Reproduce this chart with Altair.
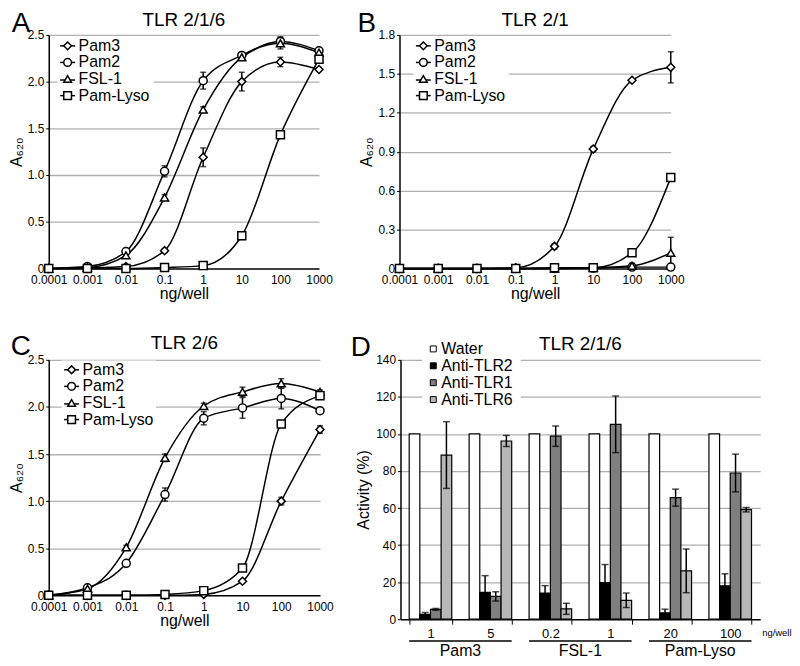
import altair as alt
import pandas as pd

FONT = "Liberation Sans"

# ---------------- shared categories ----------------
doses = [0.0001, 0.001, 0.01, 0.1, 1, 10, 100, 1000]
series = ["Pam3", "Pam2", "FSL-1", "Pam-Lyso"]
marker_shapes = ["diamond", "circle", "triangle-up", "square"]

# ---------------- Panel A: TLR 2/1/6 ----------------
a_pam3 = [0.0, 0.005, 0.02, 0.19, 1.19, 2.00, 2.21, 2.13]
a_pam2 = [0.0, 0.02, 0.18, 1.04, 2.01, 2.28, 2.43, 2.33]
a_fsl1 = [0.0, 0.01, 0.14, 0.76, 1.70, 2.26, 2.41, 2.31]
a_lyso = [0.0, 0.0, 0.0, 0.01, 0.03, 0.35, 1.43, 2.24]
a_pam3_err = [0, 0, 0, 0.02, 0.10, 0.10, 0.05, 0.02]
a_pam2_err = [0, 0, 0, 0.06, 0.09, 0.03, 0.05, 0.02]
a_fsl1_err = [0, 0, 0, 0.03, 0.03, 0.03, 0.06, 0.02]
a_lyso_err = [0, 0, 0, 0, 0.01, 0.04, 0.03, 0.03]
a_ticks = [0, 0.5, 1.0, 1.5, 2.0, 2.5]

# ---------------- Panel B: TLR 2/1 ----------------
b_pam3 = [0.0, 0.0, 0.0, 0.005, 0.17, 0.92, 1.45, 1.55]
b_pam2 = [0.0, 0.0, 0.0, 0.0, 0.0, 0.003, 0.01, 0.01]
b_fsl1 = [0.0, 0.0, 0.0, 0.0, 0.0, 0.005, 0.02, 0.12]
b_lyso = [0.0, 0.0, 0.0, 0.0, 0.005, 0.005, 0.12, 0.70]
b_pam3_err = [0, 0, 0, 0, 0.02, 0.02, 0.01, 0.12]
b_pam2_err = [0, 0, 0, 0, 0, 0, 0, 0]
b_fsl1_err = [0, 0, 0, 0, 0, 0, 0.02, 0.12]
b_lyso_err = [0, 0, 0, 0, 0, 0, 0.01, 0.01]
b_ticks = [0, 0.3, 0.6, 0.9, 1.2, 1.5, 1.8]

# ---------------- Panel C: TLR 2/6 ----------------
c_pam3 = [0.0, 0.0, 0.0, 0.0, 0.01, 0.15, 1.00, 1.76]
c_pam2 = [0.0, 0.08, 0.34, 1.07, 1.88, 1.99, 2.09, 1.96]
c_fsl1 = [0.0, 0.07, 0.51, 1.46, 2.01, 2.16, 2.25, 2.16]
c_lyso = [0.0, 0.0, 0.0, 0.01, 0.05, 0.29, 1.82, 2.12]
c_pam3_err = [0, 0, 0, 0, 0, 0.01, 0.04, 0.04]
c_pam2_err = [0, 0, 0.02, 0.07, 0.07, 0.11, 0.11, 0.03]
c_fsl1_err = [0, 0, 0.02, 0.04, 0.03, 0.05, 0.05, 0.02]
c_lyso_err = [0, 0, 0, 0, 0, 0.02, 0.02, 0.02]
c_ticks = [0, 0.5, 1.0, 1.5, 2.0, 2.5]

# ---------------- Panel D: TLR 2/1/6 antibodies ----------------
treatments = ["Water", "Anti-TLR2", "Anti-TLR1", "Anti-TLR6"]
treat_colors = ["#ffffff", "#000000", "#7f7f7f", "#b7b7b7"]
groups = ["Pam3|1", "Pam3|5", "FSL-1|0.2", "FSL-1|1", "Pam-Lyso|20", "Pam-Lyso|100"]
pairs = ["Pam3", "FSL-1", "Pam-Lyso"]
pair_first = ["Pam3|1", "FSL-1|0.2", "Pam-Lyso|20"]
pair_second = ["Pam3|5", "FSL-1|1", "Pam-Lyso|100"]
d_water = [100, 100, 100, 100, 100, 100]
d_tlr2 = [2.6, 14.5, 14.1, 19.8, 3.4, 18.0]
d_tlr1 = [5.3, 12.3, 98.8, 105.2, 65.6, 78.9]
d_tlr6 = [88.6, 96.2, 5.6, 10.2, 26.1, 59.1]
d_water_err = [0, 0, 0, 0, 0, 0]
d_tlr2_err = [1.0, 9.0, 4.0, 9.7, 2.0, 6.5]
d_tlr1_err = [0.5, 2.5, 5.5, 15.3, 4.6, 10.2]
d_tlr6_err = [18.0, 3.0, 3.0, 3.9, 11.8, 1.2]
d_ticks = [0, 20, 40, 60, 80, 100, 120, 140]

GRID = "#b0b0b0"
grid_color = {"condition": {"test": "datum.value === 0", "value": "transparent"}, "value": GRID}
PAD_IN = 0.29


def make_df(vals, errs):
    rows = []
    for s, v, e in zip(series, vals, errs):
        for d, y, er in zip(doses, v, e):
            rows.append({"dose": d, "value": y, "series": s,
                         "lo": max(y - er, 0), "hi": y + er, "err": er})
    return pd.DataFrame(rows)


def deco_layers(letter, title, letter_x, letter_y, title_x, title_y):
    deco = alt.Chart(pd.DataFrame({"letter": [letter], "title": [title]}))
    lt = deco.mark_text(fontSize=28, font=FONT, align="center", baseline="middle",
                        color="black").encode(text="letter:N", x=alt.value(letter_x), y=alt.value(letter_y))
    tt = deco.mark_text(fontSize=19, font=FONT, align="center", baseline="middle",
                        color="black").encode(text="title:N", x=alt.value(title_x), y=alt.value(title_y))
    return [lt, tt]


def line_legend(cx, y0, dy, bg_x2):
    """Manual legend: white box, then per series a short line, the marker and the label."""
    layers = []
    bg = alt.Chart(pd.DataFrame({"k": [0]})).mark_rect(color="white").encode(
        x=alt.value(cx - 10), x2=alt.value(bg_x2),
        y=alt.value(y0 - dy / 2 - 1), y2=alt.value(y0 + 3.5 * dy + 1))
    layers.append(bg)
    for i, (s, shp) in enumerate(zip(series, marker_shapes)):
        yy = y0 + i * dy
        src = alt.Chart(pd.DataFrame({"s": [s]}))
        ly = yy + (1 if shp == "triangle-up" else 0)
        layers.append(src.mark_rule(color="black", strokeWidth=1.5).encode(
            x=alt.value(cx - 7.5), x2=alt.value(cx + 7.5), y=alt.value(ly)))
        layers.append(src.mark_point(shape=shp, size=60, filled=True, fill="white", stroke="black",
                                     strokeWidth=1.5, opacity=1).encode(
            x=alt.value(cx), y=alt.value(yy)))
        layers.append(src.mark_text(fontSize=16, font=FONT, color="black", align="left",
                                    baseline="middle").encode(
            text="s:N", x=alt.value(cx + 11), y=alt.value(yy)))
    return layers


def line_panel(letter, title, vals, errs, ymax, yticks, w, h, leg_cx, leg_y0, leg_x2,
               letter_x, letter_y, title_y):
    df = make_df(vals, errs)
    df_err = df[df["err"] > 0]
    xsc = alt.Scale(type="log", domain=[0.0001, 1000], nice=False)
    xax = alt.Axis(values=doses, format="~g", title="ng/well", grid=False, ticks=False,
                   labelFlush=False, labelOverlap=False, labelFontSize=12, labelColor="black",
                   labelFont=FONT, labelPadding=6, titleFontSize=16, titleFont=FONT,
                   titleFontWeight="normal", titleColor="black", titlePadding=0,
                   domainColor="black", domainWidth=1.5)
    ysc = alt.Scale(domain=[0, ymax], nice=False)
    yax = alt.Axis(values=yticks,
                   labelExpr="datum.value == 0 ? '0' : format(datum.value, '.1f')",
                   title="A₆₂₀", titleFontSize=16, titleFont=FONT, titleFontWeight="normal",
                   titleColor="black", titlePadding=3, labelFontSize=12, labelFont=FONT,
                   labelColor="black", labelPadding=2, tickSize=3, tickColor="black",
                   tickWidth=1, domainColor="black", domainWidth=1.5, grid=True,
                   gridColor=grid_color, gridWidth=1.3, labelOverlap=False)
    x = alt.X("dose:Q", scale=xsc, axis=xax)
    base = alt.Chart(df)
    lines = base.mark_line(interpolate="monotone", color="black", strokeWidth=1.5).encode(
        x=x, y=alt.Y("value:Q", scale=ysc, axis=yax), detail="series:N")
    rules = alt.Chart(df_err).mark_rule(color="black", strokeWidth=1.5).encode(
        x=x, y=alt.Y("lo:Q", scale=ysc, axis=yax), y2="hi:Q")
    caps = alt.Chart(df_err).transform_fold(["lo", "hi"], as_=["end", "yv"]).mark_tick(
        orient="horizontal", color="black", thickness=1.5, size=6).encode(
        x=x, y=alt.Y("yv:Q", scale=ysc, axis=yax))
    pts = base.mark_point(filled=True, fill="white", stroke="black", strokeWidth=1.5,
                          size=65, opacity=1).encode(
        x=x, y=alt.Y("value:Q", scale=ysc, axis=yax),
        shape=alt.Shape("series:N", scale=alt.Scale(domain=series, range=marker_shapes), legend=None))
    legend = line_legend(leg_cx, leg_y0, 16.7, leg_x2)
    deco = deco_layers(letter, title, letter_x, letter_y, w / 2, title_y)
    return alt.layer(lines, rules, caps, pts, *legend, *deco).properties(width=w, height=h)


def bar_panel(w, h):
    rows = []
    for t, vals, errs in zip(treatments, [d_water, d_tlr2, d_tlr1, d_tlr6],
                             [d_water_err, d_tlr2_err, d_tlr1_err, d_tlr6_err]):
        for g, v, e in zip(groups, vals, errs):
            rows.append({"group": g, "treatment": t, "value": v, "lo": v - e, "hi": v + e, "err": e})
    df = pd.DataFrame(rows)
    df_err = df[df["err"] > 0]
    xsc = alt.Scale(domain=groups, paddingInner=PAD_IN, paddingOuter=PAD_IN / 2)
    ysc = alt.Scale(domain=[0, 140], nice=False)
    xo = alt.XOffset("treatment:N", scale=alt.Scale(domain=treatments, paddingInner=0, paddingOuter=0))
    xax = alt.Axis(title=None, labelExpr="split(datum.value, '|')[1]", labelAngle=0,
                   tickBand="extent", tickSize=5, tickColor="black", tickWidth=1,
                   labelFontSize=13, labelFont=FONT, labelColor="black", labelPadding=3,
                   domainColor="black", domainWidth=1.5)
    yax = alt.Axis(values=d_ticks, title="Activity (%)", titleFontSize=16, titleFont=FONT,
                   titleFontWeight="normal", titleColor="black", titlePadding=4,
                   labelFontSize=12, labelFont=FONT, labelColor="black", labelPadding=2,
                   tickSize=3, tickColor="black", tickWidth=1, domainColor="black",
                   domainWidth=1.5, grid=True, gridColor=grid_color, gridWidth=1.3,
                   labelOverlap=False)
    x = alt.X("group:N", scale=xsc, axis=xax)
    color = alt.Color("treatment:N", scale=alt.Scale(domain=treatments, range=treat_colors), legend=None)
    bars = alt.Chart(df).mark_bar(stroke="black", strokeWidth=1.2).encode(
        x=x, xOffset=xo, y=alt.Y("value:Q", scale=ysc, axis=yax), color=color)
    rules = alt.Chart(df_err).mark_rule(color="black", strokeWidth=1.5).encode(
        x=x, xOffset=xo, y=alt.Y("lo:Q", scale=ysc, axis=yax), y2="hi:Q")
    caps = alt.Chart(df_err).transform_fold(["lo", "hi"], as_=["end", "yv"]).mark_tick(
        orient="horizontal", color="black", thickness=1.5, size=7).encode(
        x=x, xOffset=xo, y=alt.Y("yv:Q", scale=ysc, axis=yax))

    pdf = pd.DataFrame({"pair": pairs, "g1": pair_first, "g2": pair_second})
    step = w / 6.0
    half_gap = PAD_IN * step / 2
    under = alt.Chart(pdf).mark_rule(color="black", strokeWidth=1.5).encode(
        x=alt.X("g1:N", scale=xsc, axis=xax, bandPosition=0),
        x2=alt.X2("g2", bandPosition=1), y=alt.value(h + 22))
    plab = alt.Chart(pdf).mark_text(fontSize=16, font=FONT, color="black", baseline="middle",
                                    align="center", dx=-half_gap).encode(
        x=alt.X("g2:N", scale=xsc, axis=xax, bandPosition=0), y=alt.value(h + 32), text="pair:N")
    unit = alt.Chart(pd.DataFrame({"u": ["ng/well"]})).mark_text(
        fontSize=9.5, font=FONT, color="black", align="left", baseline="middle").encode(
        text="u:N", x=alt.value(w + 2), y=alt.value(h + 14))

    # manual legend
    leg = [alt.Chart(pd.DataFrame({"k": [0]})).mark_rect(color="white").encode(
        x=alt.value(22), x2=alt.value(121), y=alt.value(-21), y2=alt.value(48))]
    for i, (t, c) in enumerate(zip(treatments, treat_colors)):
        src = alt.Chart(pd.DataFrame({"t": [t]}))
        yy = -11 + i * 17
        leg.append(src.mark_point(shape="square", size=36, filled=True, fill=c, stroke="black",
                                  strokeWidth=1, opacity=1).encode(x=alt.value(33), y=alt.value(yy)))
        leg.append(src.mark_text(fontSize=16, font=FONT, color="black", align="left",
                                 baseline="middle").encode(text="t:N", x=alt.value(41), y=alt.value(yy)))
    deco = deco_layers("D", "TLR 2/1/6", -40, -12, w / 2, -16)
    return alt.layer(bars, rules, caps, under, plab, unit, *leg, *deco).properties(width=w, height=h)


A = line_panel("A", "TLR 2/1/6", [a_pam3, a_pam2, a_fsl1, a_lyso],
               [a_pam3_err, a_pam2_err, a_fsl1_err, a_lyso_err], 2.5, a_ticks,
               272, 235, 19, 11, 106, -28, -11, -15)
B = line_panel("B", "TLR 2/1", [b_pam3, b_pam2, b_fsl1, b_lyso],
               [b_pam3_err, b_pam2_err, b_fsl1_err, b_lyso_err], 1.8, b_ticks,
               273, 235, 24, 11, 110, -33, -11, -15)
C = line_panel("C", "TLR 2/6", [c_pam3, c_pam2, c_fsl1, c_lyso],
               [c_pam3_err, c_pam2_err, c_fsl1_err, c_lyso_err], 2.5, c_ticks,
               273, 237, 23, 10, 108, -28, -13, -17)
D = bar_panel(362, 261)

row1 = alt.hconcat(A, B, spacing=24)
row2 = alt.hconcat(C, D, spacing=16)
chart = alt.vconcat(row1, row2, spacing=32).properties(padding=0).configure(
    font=FONT).configure_view(stroke=None)

chart.save("out.html", embed_options={"renderer": "svg", "actions": False})
